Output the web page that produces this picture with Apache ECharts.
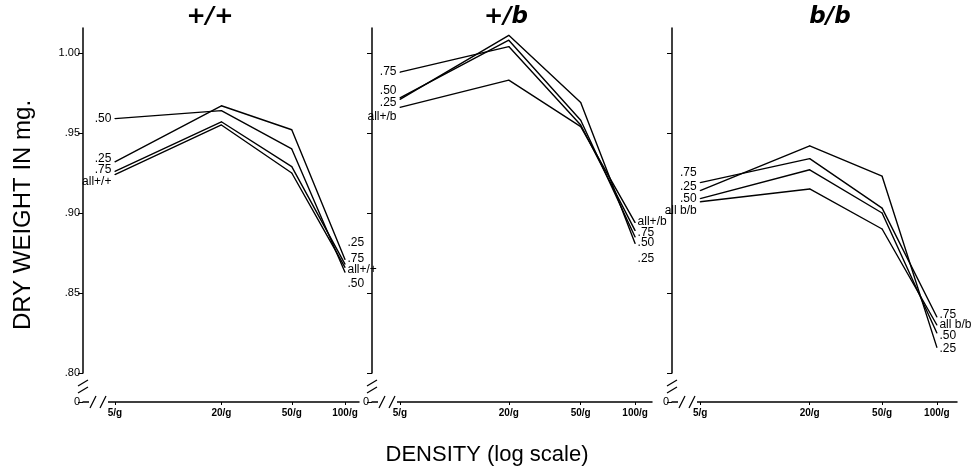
<!DOCTYPE html>
<html>
<head>
<meta charset="utf-8">
<script src="https://cdn.jsdelivr.net/npm/echarts@6/dist/echarts.min.js"></script>
<style>
  html, body { margin: 0; background: #fff; }
  #main { width: 975px; height: 471px; }
</style>
</head>
<body>
<div id="main"></div>
<script>
// densities (log x axis) and their tick labels
var density = [5, 20, 50, 100];
var densityLabels = ['5/g', '20/g', '50/g', '100/g'];
var yTicks = [0, 0.80, 0.85, 0.90, 0.95, 1.00];
var panelTitles = ['+/+', '+/b', 'b/b'];
var lineNames = ['.25', '.50', '.75', 'all'];
var allNames = ['all+/+', 'all+/b', 'all b/b'];

// +/+
var ppQ25 = [0.932, 0.967, 0.952, 0.871];
var ppQ50 = [0.959, 0.964, 0.940, 0.863];
var ppQ75 = [0.926, 0.957, 0.929, 0.868];
var ppAll = [0.924, 0.955, 0.925, 0.866];
// +/b
var pbQ25 = [0.971, 1.011, 0.969, 0.881];
var pbQ50 = [0.972, 1.008, 0.958, 0.885];
var pbQ75 = [0.988, 1.004, 0.955, 0.889];
var pbAll = [0.966, 0.983, 0.954, 0.894];
// b/b
var bbQ25 = [0.914, 0.942, 0.923, 0.816];
var bbQ50 = [0.909, 0.927, 0.900, 0.825];
var bbQ75 = [0.919, 0.934, 0.903, 0.835];
var bbAll = [0.907, 0.915, 0.890, 0.830];

var panelData = [
  [ppQ25, ppQ50, ppQ75, ppAll],
  [pbQ25, pbQ50, pbQ75, pbAll],
  [bbQ25, bbQ50, bbQ75, bbAll]
];

// layout only: where the label text sits relative to the line end
var startOffsets = [[-3, 0, -2, 7], [3, -7, 0, 9], [-4, 0, -10, 9]];
var endOffsets = [[-17, 11, -6, 2], [15, 6, 2, -1], [1, 3, -2, 0]];

var gridLeft = [83, 372, 672];
var gridWidth = [276, 280, 285];
var titleX = [210, 506, 830];
var xMin = [3.3, 3.5, 3.5];
var xMax = [120, 124, 129];
var gridTop = 28, gridBottom = 402;

var chart = echarts.init(document.getElementById('main'));

var grids = [], xAxes = [], yAxes = [], series = [], graphics = [];
var font = 'Liberation Sans';

function slash(x1, y1, x2, y2) {
  return { type: 'line', z: 100, shape: { x1: x1, y1: y1, x2: x2, y2: y2 }, style: { stroke: '#000', lineWidth: 1.3 } };
}
function gap(x, y, w, h) {
  return { type: 'rect', z: 99, shape: { x: x, y: y, width: w, height: h }, style: { fill: '#fff' } };
}

for (var p = 0; p < 3; p++) {
  grids.push({ left: gridLeft[p], top: gridTop, width: gridWidth[p], height: gridBottom - gridTop });

  xAxes.push({
    type: 'log',
    logBase: 10,
    gridIndex: p,
    min: xMin[p],
    max: xMax[p],
    axisLine: { lineStyle: { color: '#000', width: 1.5 } },
    axisTick: { customValues: density, length: 3, lineStyle: { color: '#000' } },
    axisLabel: {
      customValues: density,
      color: '#000',
      fontFamily: font,
      fontWeight: 'bold',
      fontSize: 10,
      margin: 6,
      formatter: function (v) {
        var i = density.indexOf(Math.round(v));
        return i >= 0 ? densityLabels[i] : '';
      }
    },
    splitLine: { show: false },
    minorTick: { show: false }
  });

  yAxes.push({
    type: 'value',
    gridIndex: p,
    min: 0,
    max: 1.0156,
    breaks: [{ start: 0, end: 0.8, gap: '7.75%' }],
    breakArea: { show: false },
    name: p === 0 ? 'DRY WEIGHT IN mg.' : '',
    nameLocation: 'middle',
    nameGap: 48,
    nameRotate: 90,
    nameTextStyle: { color: '#000', fontFamily: font, fontSize: 24 },
    axisLine: { show: true, lineStyle: { color: '#000', width: 1.5 } },
    axisTick: { show: true, customValues: yTicks, length: 5, lineStyle: { color: '#000' } },
    axisLabel: {
      customValues: yTicks,
      color: '#000',
      fontFamily: font,
      fontSize: 11,
      margin: 3,
      formatter: (function (pp) {
        return function (v) {
          if (v === 0) return '0';
          if (pp > 0) return '';
          return v >= 1 ? '1.00' : v.toFixed(2).slice(1);
        };
      })(p)
    },
    splitLine: { show: false }
  });

  for (var s = 0; s < 4; s++) {
    var vals = panelData[p][s];
    var name = s === 3 ? allNames[p] : lineNames[s];
    var data = [];
    for (var k = 0; k < density.length; k++) {
      var item = { value: [density[k], vals[k]] };
      if (k === 0) {
        item.label = { show: true, position: 'left', distance: 3, offset: [0, startOffsets[p][s]], formatter: name };
      } else if (k === density.length - 1) {
        item.label = { show: true, position: 'right', distance: 2, offset: [0, endOffsets[p][s]], formatter: name };
      }
      data.push(item);
    }
    series.push({
      name: name,
      type: 'line',
      xAxisIndex: p,
      yAxisIndex: p,
      data: data,
      symbol: 'circle',
      symbolSize: 1,
      itemStyle: { color: '#000' },
      lineStyle: { color: '#000', width: 1.4 },
      label: { color: '#000', fontFamily: font, fontSize: 12 },
      emphasis: { disabled: true },
      silent: true,
      animation: false
    });
  }

  // panel title
  graphics.push({
    type: 'text',
    x: titleX[p],
    y: 17,
    style: {
      text: panelTitles[p],
      fill: '#000',
      font: 'italic bold 23px "DejaVu Sans"',
      textAlign: 'center',
      textVerticalAlign: 'middle'
    }
  });

  // axis break marks (// on both axes near the origin)
  var L = gridLeft[p];
  graphics.push(gap(L - 3, 381, 6, 11));
  graphics.push(slash(L - 5, 386, L + 5, 380));
  graphics.push(slash(L - 5, 393, L + 5, 387));
  graphics.push(gap(L + 6, 398, 19, 8));
  graphics.push(slash(L + 7, 408, L + 13, 396));
  graphics.push(slash(L + 17, 408, L + 23, 396));
}

graphics.push({
  type: 'text',
  x: 487,
  y: 455,
  style: {
    text: 'DENSITY (log scale)',
    fill: '#000',
    font: '22px "Liberation Sans"',
    textAlign: 'center',
    textVerticalAlign: 'middle'
  }
});

chart.setOption({
  animation: false,
  grid: grids,
  xAxis: xAxes,
  yAxis: yAxes,
  series: series,
  graphic: graphics
});
</script>
</body>
</html>
